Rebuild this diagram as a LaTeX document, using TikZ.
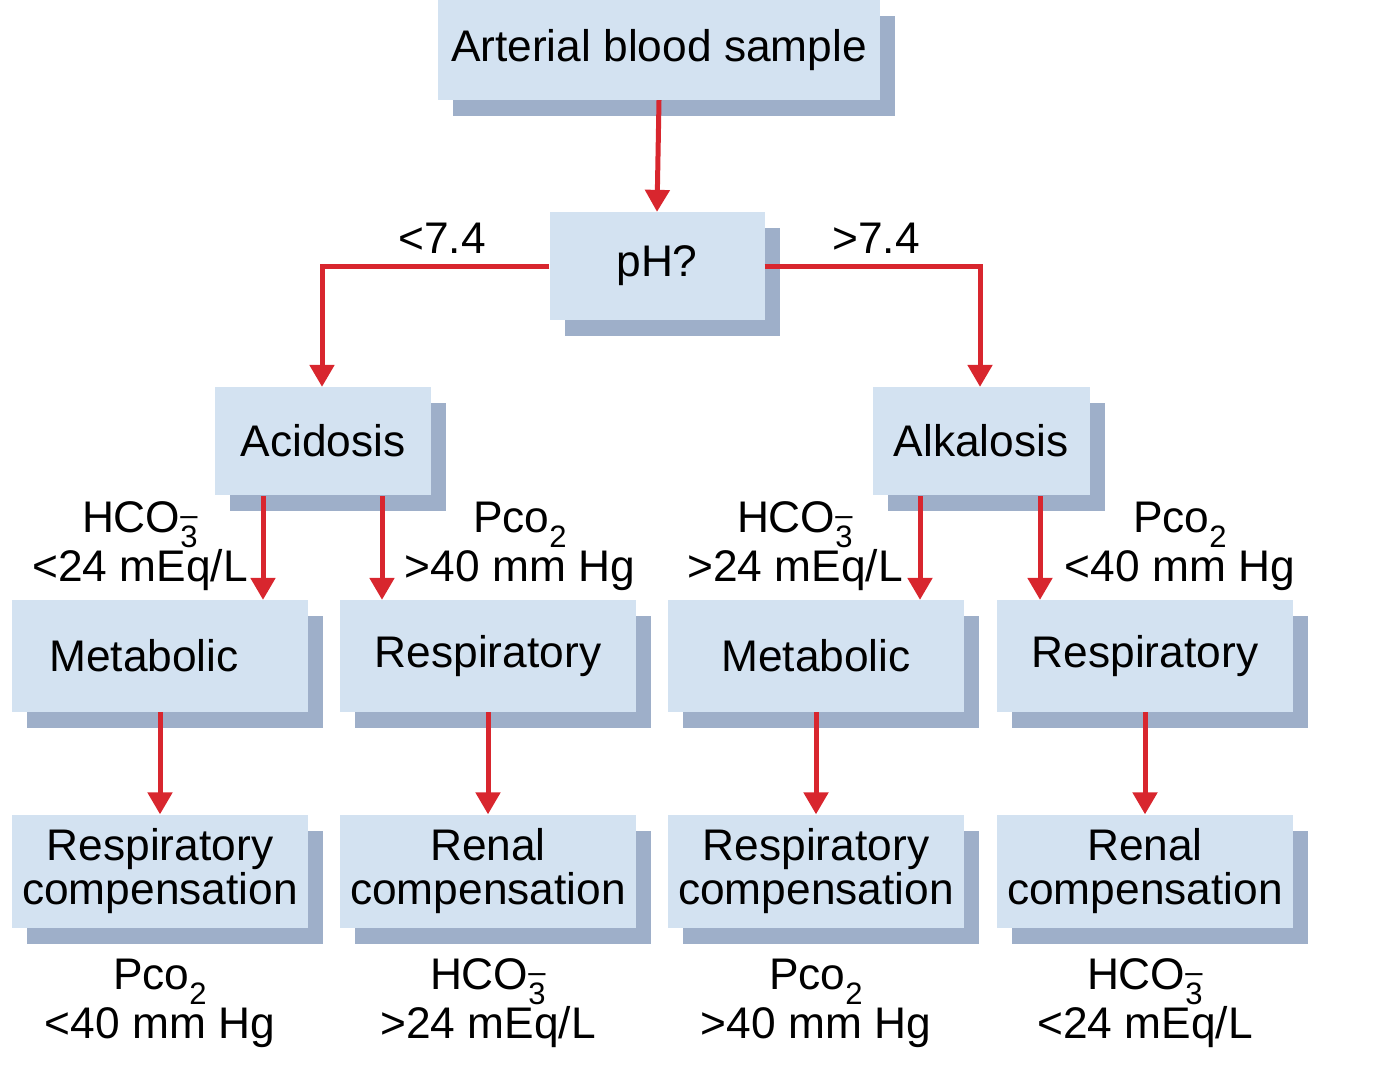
\documentclass[tikz,border=0pt]{standalone}
\usepackage{fontspec}
\setmainfont{Liberation Sans}
\usetikzlibrary{shadows,arrows.meta}
\definecolor{boxc}{HTML}{D3E2F1}
\definecolor{shc}{HTML}{9EAFC9}
\definecolor{arr}{HTML}{D8262E}
\newcommand{\hco}{HCO\rlap{\textsuperscript{--}}\textsubscript{3}}
\begin{document}
\begin{tikzpicture}[x=0.05cm,y=-0.05cm,
  every node/.style={font=\fontsize{63}{70}\selectfont, inner sep=0pt, align=center},
  bx/.style={fill=boxc, draw=none, drop shadow={shadow xshift=0.75cm, shadow yshift=-0.8cm, opacity=1, fill=shc}},
  ar/.style={draw=arr, line width=0.25cm, -{Triangle[length=1.1cm,width=1.2cm]}}]
\useasboundingbox (0,0) rectangle (1392,1066);
\node[bx,minimum width=22.1cm,minimum height=5cm] (art) at (659,50) {Arterial blood sample};
\node[bx,minimum width=10.75cm,minimum height=5.4cm] (ph) at (657,266) {pH?};
\node[bx,minimum width=10.85cm,minimum height=5.4cm] (aci) at (323,441) {Acidosis};
\node[bx,minimum width=10.85cm,minimum height=5.4cm] (alk) at (981,441) {Alkalosis};
\node[bx,minimum width=14.8cm,minimum height=5.6cm] (m1) at (160,656) {\hspace*{-1.6cm}Metabolic};
\node[bx,minimum width=14.8cm,minimum height=5.6cm] (r1) at (488,656) {Respiratory};
\node[bx,minimum width=14.8cm,minimum height=5.6cm] (m2) at (816,656) {Metabolic};
\node[bx,minimum width=14.8cm,minimum height=5.6cm] (r2) at (1145,656) {Respiratory};
\node[bx,minimum width=14.8cm,minimum height=5.65cm] (c1) at (160,871) {Respiratory\\[-8pt]compensation};
\node[bx,minimum width=14.8cm,minimum height=5.65cm] (c2) at (488,871) {Renal\\[-8pt]compensation};
\node[bx,minimum width=14.8cm,minimum height=5.65cm] (c3) at (816,871) {Respiratory\\[-8pt]compensation};
\node[bx,minimum width=14.8cm,minimum height=5.65cm] (c4) at (1145,871) {Renal\\[-8pt]compensation};
\draw[ar] (art.south) -- (ph.north);
\draw[ar] (ph.west) -| (aci.north -| 322,0);
\draw[ar] (ph.east) -| (alk.north -| 980,0);
\node (lt) at (442,238) {<7.4};
\node (gt) at (876,238) {>7.4};
\coordinate (a1) at (263,496); \coordinate (a2) at (382,496);
\coordinate (a3) at (920,496); \coordinate (a4) at (1040,496);
\draw[ar] (a1) -- (a1 |- m1.north);
\draw[ar] (a2) -- (a2 |- r1.north);
\draw[ar] (a3) -- (a3 |- m2.north);
\draw[ar] (a4) -- (a4 |- r2.north);
\node (l1) at (140,546) {\hco\\[0pt]<24 mEq/L};
\node (l2) at (520,546) {Pco\textsubscript{2}\\[0pt]>40 mm Hg};
\node (l3) at (795,546) {\hco\\[0pt]>24 mEq/L};
\node (l4) at (1180,546) {Pco\textsubscript{2}\\[0pt]<40 mm Hg};
\foreach \a/\b in {m1/c1,r1/c2,m2/c3,r2/c4} \draw[ar] (\a.south) -- (\b.north);
\node (b1) at (160,1003) {Pco\textsubscript{2}\\[0pt]<40 mm Hg};
\node (b2) at (488,1003) {\hco\\[0pt]>24 mEq/L};
\node (b3) at (816,1003) {Pco\textsubscript{2}\\[0pt]>40 mm Hg};
\node (b4) at (1145,1003) {\hco\\[0pt]<24 mEq/L};
\end{tikzpicture}
\end{document}
